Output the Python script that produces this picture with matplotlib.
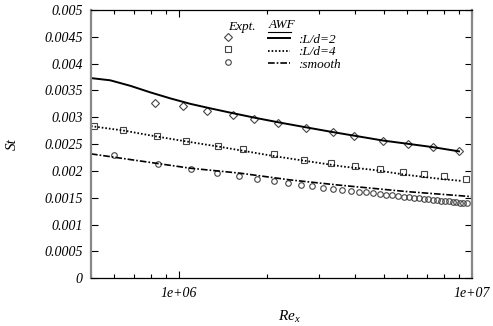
import matplotlib
matplotlib.use("Agg")
import matplotlib.pyplot as plt
from matplotlib.lines import Line2D
from matplotlib.ticker import LogLocator, NullFormatter, FixedLocator

plt.rcParams['font.family'] = ['Liberation Serif', 'DejaVu Serif']
plt.rcParams['font.style'] = 'italic'
plt.rcParams['mathtext.fontset'] = 'custom'
plt.rcParams['mathtext.it'] = 'Liberation Serif:italic'
plt.rcParams['mathtext.rm'] = 'Liberation Serif:italic'

# experiment, L/d=2 (diamonds)
re_d2 = [8.24e5, 1.034e6, 1.249e6, 1.525e6, 1.803e6, 2.183e6, 2.713e6,
         3.346e6, 3.966e6, 4.98e6, 6.03e6, 7.34e6, 9.03e6]
st_d2 = [0.003265, 0.003202, 0.003121, 0.003047, 0.002972, 0.002892, 0.002810,
         0.002724, 0.002655, 0.002567, 0.002506, 0.002444, 0.002375]

# experiment, L/d=4 (squares)
re_d4 = [5.13e5, 6.44e5, 8.39e5, 1.054e6, 1.362e6, 1.647e6, 2.115e6, 2.677e6,
         3.294e6, 3.99e6, 4.853e6, 5.83e6, 6.86e6, 8.03e6, 9.54e6]
st_d4 = [0.002847, 0.002767, 0.002655, 0.002562, 0.002468, 0.002407, 0.002313,
         0.002207, 0.002142, 0.002095, 0.002039, 0.001989, 0.001950, 0.001905,
         0.001856]

# experiment, smooth (circles)
re_sm = [0.6e6, 0.85e6, 1.1e6, 1.35e6, 1.6e6, 1.85e6, 2.1e6, 2.35e6, 2.6e6,
         2.85e6, 3.1e6, 3.35e6, 3.6e6, 3.85e6, 4.1e6, 4.35e6, 4.6e6, 4.85e6,
         5.1e6, 5.35e6, 5.6e6, 5.85e6, 6.1e6, 6.35e6, 6.6e6, 6.85e6, 7.1e6,
         7.35e6, 7.6e6, 7.85e6, 8.1e6, 8.35e6, 8.6e6, 8.85e6, 9.1e6, 9.35e6,
         9.6e6]
st_sm = [0.002291, 0.002133, 0.002034, 0.001959, 0.001903, 0.001853, 0.001810,
         0.001772, 0.001741, 0.001711, 0.001688, 0.001670, 0.001651, 0.001632,
         0.001616, 0.001601, 0.001586, 0.001573, 0.001560, 0.001547, 0.001535,
         0.001524, 0.001513, 0.001502, 0.001493, 0.001483, 0.001474, 0.001465,
         0.001455, 0.001448, 0.001440, 0.001433, 0.001425, 0.001418, 0.001410,
         0.001403, 0.001397]

# AWF predictions
awf_re2 = [5.0e5, 5.815e5, 6.805e5, 7.962e5, 9.317e5, 1.090e6, 1.276e6,
           1.493e6, 1.817e6, 2.212e6, 2.735e6, 3.354e6, 3.99e6, 4.97e6,
           6.05e6, 7.36e6, 9.03e6]
awf_st2 = [0.003731, 0.003690, 0.003588, 0.003466, 0.003354, 0.003252,
           0.003168, 0.003088, 0.002991, 0.002901, 0.002810, 0.002724,
           0.002655, 0.002567, 0.002506, 0.002444, 0.002366]

awf_re4 = [5.0e5, 6.45e5, 8.39e5, 1.063e6, 1.362e6, 2.155e6, 3.63e6, 4.60e6,
           5.99e6, 7.78e6, 9.22e6]
awf_st4 = [0.002836, 0.002754, 0.002642, 0.002549, 0.002455, 0.002269, 0.002082,
           0.002021, 0.001927, 0.001853, 0.001815]

awf_resm = [5.0e5, 1.09e6, 1.615e6, 2.392e6, 3.452e6, 5.99e6, 1.0e7]
awf_stsm = [0.002319, 0.002052, 0.001959, 0.001834, 0.001741, 0.001616, 0.001522]

fig = plt.figure(figsize=(4.93, 3.26), dpi=100)
ax = fig.add_axes([0.1846, 0.1463, 0.7728, 0.8230])

mk = dict(linestyle='none', markerfacecolor='none', markeredgecolor='#444444',
          markeredgewidth=0.8)
ax.plot(re_d2, st_d2, marker='D', markersize=3.6, **mk)
ax.plot(re_d4, st_d4, marker='s', markersize=4.6, **mk)
ax.plot(re_sm, st_sm, marker='o', markersize=4.0, **mk)

l1, = ax.plot(awf_re2, awf_st2, color='black', lw=1.4, ls='-')
l2, = ax.plot(awf_re4, awf_st4, color='black', lw=1.3, ls=(0, (0.9, 1.1)))
l3, = ax.plot(awf_resm, awf_stsm, color='black', lw=1.2,
              ls=(0, (4.0, 1.2, 1.0, 1.2)))

ax.set_xscale('log')
ax.set_xlim(5e5, 1e7)
ax.set_ylim(0, 0.005)
ax.xaxis.set_major_locator(FixedLocator([1e6, 1e7]))
ax.xaxis.set_major_formatter(plt.FuncFormatter(
    lambda v, p: {1e6: '1e+06', 1e7: '1e+07'}.get(v, '')))
ax.xaxis.set_minor_locator(LogLocator(base=10, subs=range(2, 10)))
ax.xaxis.set_minor_formatter(NullFormatter())
ax.set_yticks([i * 0.0005 for i in range(11)])
ax.set_yticklabels(['0', '0.0005', '0.001', '0.0015', '0.002', '0.0025',
                    '0.003', '0.0035', '0.004', '0.0045', '0.005'])

ax.tick_params(which='both', direction='in', top=True, right=True,
               labelsize=10, pad=6)
ax.tick_params(which='major', length=5, width=0.8)
ax.tick_params(which='minor', length=3, width=0.8)

for s in ['left', 'right']:
    ax.spines[s].set_color('#888888')
    ax.spines[s].set_linewidth(1.6)
for s in ['top', 'bottom']:
    ax.spines[s].set_color('black')
    ax.spines[s].set_linewidth(0.9)

ax.set_xlabel('$Re_x$', fontsize=11)
ax.xaxis.set_label_coords(0.52, -0.115)
ax.set_ylabel('St', fontsize=11)
ax.yaxis.set_label_coords(-0.19, 0.5)

# legends
mk_h = [Line2D([], [], marker='D', markersize=3.6, **mk),
        Line2D([], [], marker='s', markersize=4.6, **mk),
        Line2D([], [], marker='o', markersize=4.0, **mk)]
leg1 = ax.legend(mk_h, ['', '', ''], loc='upper left',
                 bbox_to_anchor=(0.341, 0.918), frameon=False, fontsize=9.5,
                 labelspacing=0.03, handlelength=1.0, handletextpad=0.0,
                 borderaxespad=0, borderpad=0)
ax.add_artist(leg1)
leg2 = ax.legend([l1, l2, l3], [':L/d=2', ':L/d=4', ':smooth'],
                 loc='upper left', bbox_to_anchor=(0.4646, 0.9125),
                 frameon=False, fontsize=9.5, labelspacing=0.03,
                 handlelength=1.7, handletextpad=0.6, borderaxespad=0,
                 borderpad=0)

ax.text(0.3596, 0.9378, 'Expt.', transform=ax.transAxes, fontsize=9.5,
        ha='left', va='center')
ax.text(0.4654, 0.944, 'AWF', transform=ax.transAxes, fontsize=9.5,
        ha='left', va='center')
# underline under the AWF heading
ax.add_line(Line2D([0.4646, 0.5249], [0.919, 0.919], color='black', lw=0.8,
                   transform=ax.transAxes))

fig.savefig('out.png', dpi=100)
